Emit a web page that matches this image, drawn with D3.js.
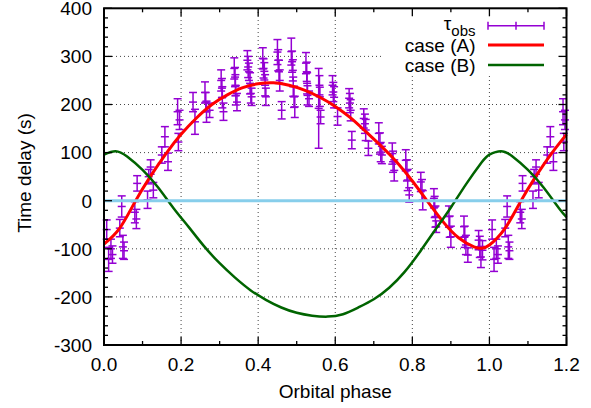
<!DOCTYPE html>
<html><head><meta charset="utf-8">
<script src="https://cdn.jsdelivr.net/npm/d3@7"></script>
<style>
html,body{margin:0;padding:0;background:#fff;}
text{font-family:"Liberation Sans",Arial,sans-serif;}
</style></head>
<body><svg id="c" width="591" height="408"></svg>
<script>
// observed time delays (phase 0..1); phase 1.0-1.2 repeats phase 0.0-0.2
const obsPhase = [0.007,0.012,0.018,0.022,0.041,0.046,0.049,0.052,0.080,0.084,0.086,0.113,0.116,0.121,0.128,0.150,0.158,0.166,0.191,0.193,0.196,
0.231,0.236,0.262,0.264,0.266,0.274,0.304,0.306,0.307,0.310,0.338,0.340,0.341,0.342,0.345,0.372,0.374,0.376,0.379,0.381,0.383,
0.412,0.414,0.416,0.418,0.420,0.450,0.452,0.454,0.456,0.461,0.486,0.488,0.490,0.491,0.493,0.495,0.524,0.526,0.527,0.528,0.532,
0.557,0.559,0.560,0.562,0.593,0.595,0.597,0.606,0.636,0.638,0.640,0.643,0.674,0.677,0.679,0.686,0.713,0.716,0.718,0.721,
0.748,0.750,0.753,0.783,0.786,0.788,0.792,0.822,0.825,0.827,0.856,0.858,0.860,0.862,0.895,0.897,0.900,0.934,0.936,0.939,0.944,
0.972,0.975,0.978,0.982];
const obsTau = [-60,-122,-100,-112,-57,-12,-96,-104,-24,-38,36,2,50,70,22,95,133,81,185,122,168,
205,164,225,205,185,188,250,234,215,185,275,257,240,219,205,292,278,268,244,223,216,
296,275,269,240,216,309,292,268,250,188,310,289,271,237,216,195,286,268,244,219,212,
192,240,216,174,240,226,215,175,213,203,188,126,171,160,147,109,140,119,101,95,
98,81,63,84,63,43,12,39,22,1,5,-13,-33,-54,-33,-54,-75,-54,-75,-92,-113,
-82,-96,-117,-103];
const obsErr = [20,25,20,18,18,22,24,18,22,20,16,18,15,15,16,17,21,18,27,18,20,
20,26,22,20,22,15,22,20,22,18,22,20,22,20,18,20,22,18,22,20,18,
22,20,18,22,18,26,22,24,22,18,28,22,22,20,22,22,22,20,22,20,16,
83,20,20,14,20,20,22,18,20,20,22,18,20,20,22,15,22,22,20,18,
22,22,22,22,22,22,15,20,22,20,20,22,22,12,22,22,22,22,22,20,15,
20,22,22,20];

// model curves
const curvePhaseA = [0,0.04,0.08,0.12,0.16,0.20,0.24,0.28,0.32,0.36,0.40,0.44,0.48,0.52,0.56,0.60,0.64,0.68,0.72,0.76,0.80,0.84,0.88,0.92,0.96,0.98,1.00,1.04,1.08,1.12,1.16,1.20];
const caseA = [-90,-58,-3,50,97,138,172,200,220,235,243,245,240,230,215,196,172,143,113,80,41,-2,-44,-77,-96,-99,-92,-58,-3,50,97,138];
const curvePhaseB = [0,0.03,0.06,0.10,0.14,0.18,0.22,0.26,0.30,0.34,0.38,0.42,0.46,0.50,0.54,0.58,0.62,0.66,0.70,0.74,0.78,0.82,0.86,0.90,0.94,0.98,1.00,1.03,1.06,1.10,1.14,1.18,1.20];
const caseB = [96,103,92,64,28,-15,-55,-95,-130,-160,-186,-206,-222,-233,-239,-241,-236,-222,-205,-181,-148,-106,-60,-14,35,80,96,103,92,64,28,-15,-34];

const xTicks = [0,0.2,0.4,0.6,0.8,1.0,1.2];
const yTicks = [-300,-200,-100,0,100,200,300,400];

const svg = d3.select("#c");
const L=104, R=566.5, T=8.3, B=345;
const x = d3.scaleLinear().domain([0,1.2]).range([L,R]);
const y = d3.scaleLinear().domain([-300,400]).range([B,T]);
const FS = 19;

// grid
const grid = svg.append("g").attr("stroke","#444").attr("stroke-width",1).attr("stroke-dasharray","1,3");
xTicks.filter(d=>d>0&&d<1.2).forEach(d=>grid.append("line").attr("x1",x(d)).attr("x2",x(d)).attr("y1",B).attr("y2",T));
yTicks.filter(d=>d>-300&&d<400&&d!==0).forEach(d=>grid.append("line").attr("x1",L).attr("x2",R).attr("y1",y(d)).attr("y2",y(d)));

// key background
svg.append("rect").attr("x",382).attr("y",T).attr("width",R-382).attr("height",75-T).attr("fill","#fff");

// observed points (0..1 plus repeat up to 1.2)
const pts = [];
obsPhase.forEach((p,i)=>{ pts.push([p,obsTau[i],obsErr[i]]); if(p<=0.2) pts.push([p+1,obsTau[i],obsErr[i]]); });
const col = "#9400d3";
const pg = svg.append("g").attr("stroke",col).attr("stroke-width",1.5);
pts.forEach(([p,v,e])=>{
  const cx=x(p), cy=y(v), y1=y(v+e), y2=y(v-e);
  pg.append("line").attr("x1",cx).attr("x2",cx).attr("y1",y1).attr("y2",y2);
  pg.append("line").attr("x1",cx-4).attr("x2",cx+4).attr("y1",y1).attr("y2",y1);
  pg.append("line").attr("x1",cx-4).attr("x2",cx+4).attr("y1",y2).attr("y2",y2);
  pg.append("line").attr("x1",cx-4).attr("x2",cx+4).attr("y1",cy).attr("y2",cy);
});

const line = d3.line().curve(d3.curveNatural);
svg.append("path").attr("d",line(curvePhaseA.map((p,i)=>[x(p),y(caseA[i])]))).attr("fill","none").attr("stroke","#ff0000").attr("stroke-width",3);
svg.append("path").attr("d",line(curvePhaseB.map((p,i)=>[x(p),y(caseB[i])]))).attr("fill","none").attr("stroke","#006400").attr("stroke-width",2.5);
svg.append("line").attr("x1",L).attr("x2",R).attr("y1",y(0)).attr("y2",y(0)).attr("stroke","#87ceeb").attr("stroke-width",3);

// axes frame & ticks (inward, all four sides)
const ax = svg.append("g").attr("stroke","#000").attr("stroke-width",1.3);
const xMinor = d3.range(0.1,1.2,0.2);
const yMinor = d3.range(-300,400,20).filter(d=>d%100!==0);
xTicks.forEach(d=>{ax.append("line").attr("x1",x(d)).attr("x2",x(d)).attr("y1",B).attr("y2",B-8);
  ax.append("line").attr("x1",x(d)).attr("x2",x(d)).attr("y1",T).attr("y2",T+8);});
xMinor.forEach(d=>{ax.append("line").attr("x1",x(d)).attr("x2",x(d)).attr("y1",B).attr("y2",B-4);
  ax.append("line").attr("x1",x(d)).attr("x2",x(d)).attr("y1",T).attr("y2",T+4);});
yTicks.forEach(d=>{ax.append("line").attr("x1",L).attr("x2",L+8).attr("y1",y(d)).attr("y2",y(d));
  ax.append("line").attr("x1",R).attr("x2",R-8).attr("y1",y(d)).attr("y2",y(d));});
yMinor.forEach(d=>{ax.append("line").attr("x1",L).attr("x2",L+4).attr("y1",y(d)).attr("y2",y(d));
  ax.append("line").attr("x1",R).attr("x2",R-4).attr("y1",y(d)).attr("y2",y(d));});
svg.append("rect").attr("x",L).attr("y",T).attr("width",R-L).attr("height",B-T).attr("fill","none").attr("stroke","#000").attr("stroke-width",2);

// tick labels
xTicks.forEach(d=>svg.append("text").attr("x",x(d)).attr("y",371).attr("text-anchor","middle").attr("font-size",FS).text(d3.format(".1f")(d)));
yTicks.forEach(d=>svg.append("text").attr("x",92).attr("y",y(d)).attr("dy","0.36em").attr("text-anchor","end").attr("font-size",FS).text(String(d)));

// axis titles
svg.append("text").attr("x",(L+R)/2).attr("y",398).attr("text-anchor","middle").attr("font-size",FS).text("Orbital phase");
svg.append("text").attr("transform","translate(31,173) rotate(-90)").attr("text-anchor","middle").attr("font-size",FS).text("Time delay (s)");

// legend
const kx1=488, kx2=544, kr=475.5;
const t = svg.append("text").attr("x",kr).attr("y",30).attr("text-anchor","end").attr("font-size",FS);
t.append("tspan").text("τ");
t.append("tspan").attr("dy",6).attr("font-size",15).text("obs");
const lg = svg.append("g").attr("stroke",col).attr("stroke-width",1.5);
lg.append("line").attr("x1",kx1).attr("x2",kx2).attr("y1",25.7).attr("y2",25.7);
[kx1,(kx1+kx2)/2,kx2].forEach(xx=>lg.append("line").attr("x1",xx).attr("x2",xx).attr("y1",21.7).attr("y2",29.7));
svg.append("text").attr("x",kr).attr("y",51.5).attr("text-anchor","end").attr("font-size",FS).text("case (A)");
svg.append("line").attr("x1",kx1).attr("x2",kx2).attr("y1",45).attr("y2",45).attr("stroke","#ff0000").attr("stroke-width",3);
svg.append("text").attr("x",kr).attr("y",71.5).attr("text-anchor","end").attr("font-size",FS).text("case (B)");
svg.append("line").attr("x1",kx1).attr("x2",kx2).attr("y1",65).attr("y2",65).attr("stroke","#006400").attr("stroke-width",2.5);
</script></body></html>
